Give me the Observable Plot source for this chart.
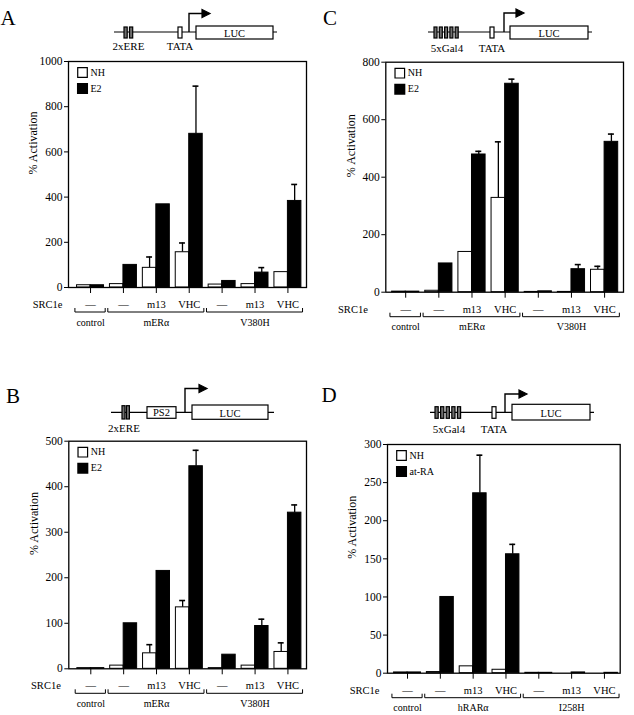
<!DOCTYPE html>
<html><head><meta charset="utf-8">
<script src="https://cdn.jsdelivr.net/npm/d3@7"></script>
<script src="https://cdn.jsdelivr.net/npm/@observablehq/plot@0.6"></script>
<style>
body{margin:0;background:#fff;}
#wrap{position:relative;width:634px;height:715px;overflow:hidden;background:#fff;}
.panel{position:absolute;}
svg{overflow:visible;}
</style></head><body><div id="wrap"></div>
<script>
// ---- shared categories ----
const srcLabels = ["—","—","m13","VHC","—","m13","VHC"];
const constructSpans = [[0,0],[1,3],[4,6]];

// ---- Panel A ----
const constructsA = ["control","mERα","V380H"];
const legendA = ["NH","E2"];
const ticksA = [0,200,400,600,800,1000];
const nhA   = [10, 15, 87, 156, 13, 15, 68];
const e2A   = [10, 100, 368, 680, 29, 66, 383];
const nhErrA = [null, null, 135, 197, null, null, null];
const e2ErrA = [null, null, null, 891, null, 88, 456];

// ---- Panel B ----
const constructsB = ["control","mERα","V380H"];
const legendB = ["NH","E2"];
const ticksB = [0,100,200,300,400,500];
const nhB   = [1.5, 7, 34, 135, 1.5, 7, 37];
const e2B   = [1.5, 100, 215, 445, 31, 94, 343];
const nhErrB = [null, null, 53, 150, null, null, 57];
const e2ErrB = [null, null, null, 480, null, 109, 360];

// ---- Panel C ----
const constructsC = ["control","mERα","V380H"];
const legendC = ["NH","E2"];
const ticksC = [0,200,400,600,800];
const nhC   = [2, 5, 140, 328, 1, 1, 78];
const e2C   = [2, 100, 479, 725, 3, 80, 523];
const nhErrC = [null, null, null, 523, null, null, 90];
const e2ErrC = [null, null, 490, 741, null, 96, 550];

// ---- Panel D ----
const constructsD = ["control","hRARα","I258H"];
const legendD = ["NH","at-RA"];
const ticksD = [0,50,100,150,200,250,300];
const nhD   = [1, 1.5, 9, 4.5, 0.5, 0, 0];
const e2D   = [1, 100, 236, 156, 0.5, 1, 0.5];
const nhErrD = [null, null, null, null, null, null, null];
const e2ErrD = [null, null, 286, 169, null, null, null];

const FONT = "'Liberation Serif','Times New Roman',serif";
const BW = 0.41;

function makePanel(cfg){
  const rows = srcLabels.map((s,i)=>({i, src:s}));
  const nhBars = cfg.nh.map((v,i)=>({x1:i-BW, x2:i, v, err:cfg.nhErr[i]}));
  const e2Bars = cfg.e2.map((v,i)=>({x1:i, x2:i+BW, v, err:cfg.e2Err[i]}));
  const errs = nhBars.concat(e2Bars).filter(b=>b.err!=null);
  const cons = cfg.constructs.map((name,k)=>({name, a:constructSpans[k][0], b:constructSpans[k][1]}));
  const plot = Plot.plot({
    width: 317, height: cfg.height,
    marginLeft: cfg.left, marginRight: 317 - cfg.right,
    marginTop: cfg.top, marginBottom: cfg.height - cfg.bottom,
    style: {fontFamily: FONT, fontSize: "11.5px", background: "transparent", color: "black", overflow: "visible"},
    x: {domain: cfg.xDomain, ticks: [0,1,2,3,4,5,6], tickFormat: () => "", tickSize: 6, label: null},
    y: {domain: [0, cfg.ticks[cfg.ticks.length-1]], ticks: cfg.ticks, tickSize: 4, tickPadding: 2, label: null, tickFormat: d => String(d)},
    marks: [
      Plot.ruleX(errs, {x: d => (d.x1+d.x2)/2, y1: "v", y2: "err", stroke: "black", strokeWidth: 1.3}),
      Plot.ruleY(errs, {y: "err", x1: d => (d.x1+d.x2)/2 - 0.09, x2: d => (d.x1+d.x2)/2 + 0.09, stroke: "black", strokeWidth: 1.6}),
      Plot.rect(nhBars, {x1: "x1", x2: "x2", y1: 0, y2: "v", fill: "white", stroke: "black", strokeWidth: 1}),
      Plot.rect(e2Bars, {x1: "x1", x2: "x2", y1: 0, y2: "v", fill: "black", stroke: "black", strokeWidth: 1}),
      Plot.frame({stroke: "black", strokeWidth: 1.3}),
      Plot.dot([0], {frameAnchor: "top-left", dx: 14, dy: 11, symbol: "square", r: 5.4, fill: "white", stroke: "black", strokeWidth: 1.2}),
      Plot.dot([0], {frameAnchor: "top-left", dx: 14, dy: 27, symbol: "square", r: 5.4, fill: "black", stroke: "black"}),
      Plot.text([cfg.legend[0]], {frameAnchor: "top-left", dx: 22, dy: 11, textAnchor: "start", lineAnchor: "middle", fontSize: 10}),
      Plot.text([cfg.legend[1]], {frameAnchor: "top-left", dx: 22, dy: 27, textAnchor: "start", lineAnchor: "middle", fontSize: 10}),
      Plot.text(["% Activation"], {frameAnchor: "left", rotate: -90, dx: -35, lineAnchor: "middle", fontSize: 12}),
      Plot.text(["SRC1e"], {frameAnchor: "bottom-left", dx: cfg.srcDx, dy: 17, textAnchor: "end", lineAnchor: "middle", fontSize: 10.5}),
      Plot.text(rows, {x: "i", text: "src", frameAnchor: "bottom", dy: 17, lineAnchor: "middle", fontSize: 10.5}),
      Plot.text(cons, {x: d => (d.a+d.b)/2, text: "name", frameAnchor: "bottom", dy: 35, lineAnchor: "middle", fontSize: 10})
    ]
  });
  // brackets via the plot's x scale
  const sx = plot.scale("x");
  const svg = d3.select(plot);
  const b = cfg.bottom;
  svg.append("g").attr("fill","none").attr("stroke","black").attr("stroke-width",1)
    .selectAll("path").data(cons).join("path")
    .attr("d", d => {
      const x1 = sx.apply(d.a - 0.46), x2 = sx.apply(d.b + 0.46);
      return `M${x1},${b+21}V${b+25}H${x2}V${b+21}`;
    });
  // panel letter
  svg.append("text").attr("x", cfg.letter[0]).attr("y", cfg.letter[1])
    .attr("font-family", FONT).attr("font-size", 21).attr("fill","black").text(cfg.letter[2]);
  drawDiagram(svg, cfg.diagram);
  const div = document.createElement("div");
  div.className = "panel";
  div.style.left = cfg.pos[0] + "px";
  div.style.top = cfg.pos[1] + "px";
  div.appendChild(plot);
  document.getElementById("wrap").appendChild(div);
}

// promoter/reporter schematic (illustration, not data)
function drawDiagram(svg, s){
  const g = svg.append("g").attr("fill","none").attr("stroke","black").attr("stroke-width",1.2);
  g.append("line").attr("x1", s.x0).attr("x2", s.x1).attr("y1", s.y).attr("y2", s.y);
  for (const bx of s.boxes) g.append("rect").attr("x",bx[0]).attr("y",bx[1]).attr("width",bx[2]).attr("height",bx[3]).attr("fill",bx[4]);
  g.append("path").attr("d", `M${s.ax},${s.y}V${s.at}H${s.ah}`).attr("stroke-width",1.4);
  g.append("path").attr("d", `M${s.ah},${s.at-4}L${s.ah+8},${s.at}L${s.ah},${s.at+4}Z`).attr("fill","black");
  for (const t of s.texts) g.append("text").attr("x",t[0]).attr("y",t[1]).attr("text-anchor","middle")
    .attr("stroke","none").attr("fill","black").attr("font-family",FONT).attr("font-size",t[3]||11).text(t[2]);
}

const gal4 = (x, y, h, w, step) => d3.range(5).map(k => [x + k*step, y, w, h, "#6e6e6e"]);

makePanel({
  pos: [0,0], height: 340, top: 61, bottom: 287, left: 68, right: 306, xDomain: [-0.67, 6.565],
  nh: nhA, e2: e2A, nhErr: nhErrA, e2Err: e2ErrA, ticks: ticksA, legend: legendA, constructs: constructsA,
  srcDx: -6, letter: [8, 25, "A"],
  diagram: {x0:114, x1:277, y:32, ax:189, at:13.5, ah:202,
    boxes: [[124,27,3.2,11,"#6e6e6e"],[129.5,27,3.2,11,"#6e6e6e"],[178,27,4,11,"white"],[196,26,77,13,"white"]],
    texts: [[234.5,36.5,"LUC",10.5],[128.5,50,"2xERE"],[180,50,"TATA"]]}
});

makePanel({
  pos: [0,380], height: 335, top: 60.7, bottom: 288.3, left: 68.3, right: 306, xDomain: [-0.67, 6.565],
  nh: nhB, e2: e2B, nhErr: nhErrB, e2Err: e2ErrB, ticks: ticksB, legend: legendB, constructs: constructsB,
  srcDx: -8, letter: [13, 23, "B"],
  diagram: {x0:111, x1:274, y:32.3, ax:185, at:8.5, ah:199,
    boxes: [[122,25.7,3,13.3,"#6e6e6e"],[126.4,25.7,3,13.3,"#6e6e6e"],[147,26.7,29,11.6,"white"],[192,25,76,14.3,"white"]],
    texts: [[161.5,36.3,"PS2",10.5],[230,36.5,"LUC",10.5],[124,51.7,"2xERE"]]}
});

makePanel({
  pos: [317,0], height: 340, top: 61.7, bottom: 291.7, left: 68.3, right: 306, xDomain: [-0.6, 6.57],
  nh: nhC, e2: e2C, nhErr: nhErrC, e2Err: e2ErrC, ticks: ticksC, legend: legendC, constructs: constructsC,
  srcDx: -18, letter: [13, 25, "C"],
  diagram: {x0:111, x1:275, y:32, ax:187, at:13, ah:199,
    boxes: gal4(117, 27, 11, 3, 5.3).concat([[173,27,4,11,"white"],[193,26,78,13,"white"]]),
    texts: [[232,36.5,"LUC",10.5],[130,52,"5xGal4"],[175,52,"TATA"]]}
});

makePanel({
  pos: [317,380], height: 335, top: 64, bottom: 292.7, left: 70, right: 302.7, xDomain: [-0.61, 6.48],
  nh: nhD, e2: e2D, nhErr: nhErrD, e2Err: e2ErrD, ticks: ticksD, legend: legendD, constructs: constructsD,
  srcDx: -8, letter: [12, 22, "D"],
  diagram: {x0:113, x1:277, y:32.3, ax:188, at:14, ah:202,
    boxes: gal4(118, 26.7, 11.6, 3.2, 5.6).concat([[175,26.7,4,11.6,"white"],[195,24.3,78,15.7,"white"]]),
    texts: [[234,36.5,"LUC",10.5],[132,53,"5xGal4"],[177,53,"TATA"]]}
});
</script></body></html>
